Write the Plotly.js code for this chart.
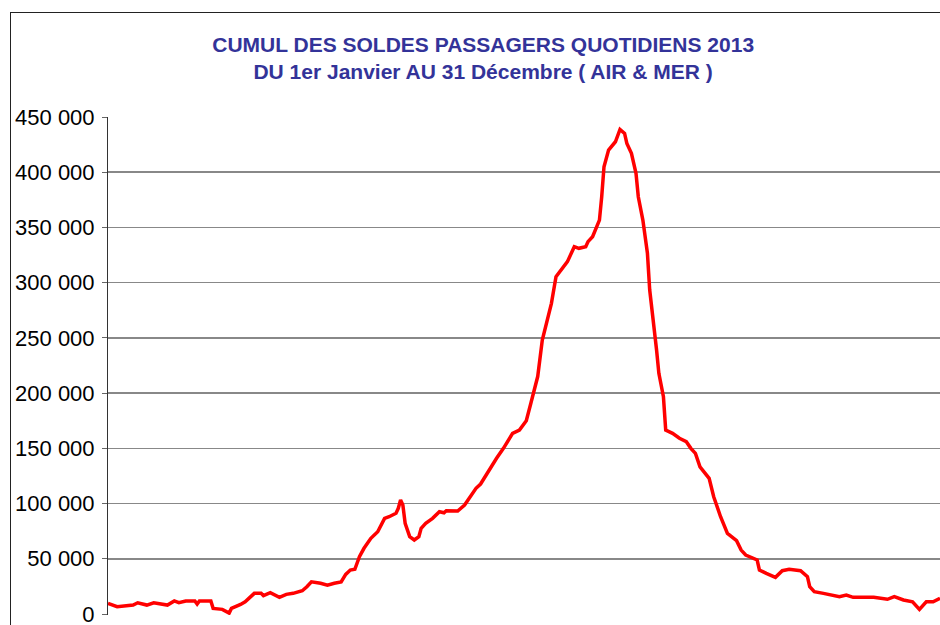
<!DOCTYPE html>
<html>
<head>
<meta charset="utf-8">
<script src="https://cdn.plot.ly/plotly-3.0.1.min.js"></script>
<style>
  body { margin: 0; overflow: hidden; background: #fff; }
  #frame { position: absolute; left: 10px; top: 12px; width: 1000px; height: 1000px; border: 1px solid #222; }
  #plot { position: absolute; left: 0; top: 0; width: 940px; height: 625px; }
</style>
</head>
<body>
<div id="frame"></div>
<div id="plot"></div>
<script>
// day of the year (1 = 1er janvier)
const jours = [1, 5, 12, 14, 18, 21, 27, 30, 32, 35, 39, 40, 41, 46, 47, 51, 54, 55, 59, 61,
    65, 68, 69, 72, 76, 79, 82, 86, 88, 90, 94, 97, 100, 103, 105, 107, 109, 110, 111, 113,
    116, 119, 122, 124, 127, 128, 129, 130, 131, 133, 135, 137, 138, 140, 143, 146, 148, 149, 154, 157,
    162, 164, 169, 171, 174, 178, 181, 182, 184, 186, 189, 191, 193, 195, 197, 199, 202, 205, 207, 210,
    211, 213, 216, 217, 218, 220, 223, 225, 227, 228, 230, 232, 233, 235, 236, 237, 238, 240, 241, 242,
    244, 245, 248, 251, 254, 256, 258, 260, 264, 266, 269, 272, 276, 278, 280, 285, 286, 289, 293, 296,
    299, 304, 307, 308, 310, 314, 317, 321, 324, 327, 336, 342, 345, 349, 353, 356, 359, 362, 365];

// cumulative balance of passengers
const soldes = [9500, 6600, 8100, 10200, 8100, 10200, 8100, 11800, 10200, 11800, 11800, 9000, 11800, 11800, 5100, 4200, 800, 5100, 8700, 11100,
    18700, 18700, 16600, 19300, 15100, 17800, 18700, 21100, 24700, 29200, 27800, 26000, 27800, 29000, 35900, 39800, 40500, 45900, 51900, 59500,
    68500, 74500, 86600, 88100, 91200, 95700, 103200, 98700, 82100, 70000, 67000, 70000, 77600, 82100, 86600, 92600, 91700, 93500, 93300, 98700,
    113800, 117700, 134900, 141000, 150000, 163600, 166600, 169600, 175000, 190800, 215000, 248100, 266200, 281300, 305400, 311400, 319000, 332600, 331100, 332600,
    337100, 341600, 356700, 377800, 405000, 420100, 427600, 438800, 435200, 426100, 417100, 399000, 377800, 356700, 341600, 326600, 293300, 260100, 239000, 217900,
    196700, 166600, 163600, 159100, 156000, 150000, 145400, 133300, 122800, 106200, 88100, 73000, 66400, 57900, 53400, 48900, 39800, 36800, 33200, 39200,
    40500, 39200, 33800, 24700, 20200, 18700, 17200, 15700, 17200, 15100, 15100, 13300, 15700, 12700, 11100, 4200, 11100, 11100, 14200];

const yTicks = [0, 50000, 100000, 150000, 200000, 250000, 300000, 350000, 400000, 450000];
const yLabels = ['0', '50 000', '100 000', '150 000', '200 000', '250 000', '300 000', '350 000', '400 000', '450 000'];

const trace = {
    x: jours,
    y: soldes,
    type: 'scatter',
    mode: 'lines',
    line: { color: '#ff0000', width: 3.5 },
    hoverinfo: 'skip'
};

Plotly.newPlot('plot', [trace], {
    width: 940,
    height: 625,
    paper_bgcolor: 'rgba(0,0,0,0)',
    plot_bgcolor: 'rgba(0,0,0,0)',
    margin: { l: 108, r: 0, t: 117, b: 10 },
    showlegend: false,
    title: {
        text: 'CUMUL DES SOLDES PASSAGERS QUOTIDIENS 2013<br>DU 1er Janvier AU 31 Décembre ( AIR & MER )',
        font: { family: 'Liberation Sans, Arial, sans-serif', size: 21, color: '#333399', weight: 'bold' },
        xref: 'container', x: 0.514, xanchor: 'center',
        yref: 'container', y: 1 - 52 / 625, yanchor: 'top'
    },
    xaxis: {
        range: [1, 365],
        showticklabels: false,
        showgrid: false,
        zeroline: false,
        ticks: ''
    },
    yaxis: {
        range: [-900, 450000],
        tickvals: yTicks,
        ticktext: yLabels,
        tickfont: { family: 'Liberation Sans, Arial, sans-serif', size: 22, color: '#000' },
        ticklabeloverflow: 'allow',
        ticklabelstandoff: 3,
        ticks: 'outside',
        ticklen: 5,
        tickcolor: '#666',
        showline: true,
        linecolor: '#333',
        linewidth: 1,
        showgrid: true,
        gridcolor: '#888',
        gridwidth: 1.5,
        zeroline: false
    }
}, { displayModeBar: false, staticPlot: true });
</script>
</body>
</html>
